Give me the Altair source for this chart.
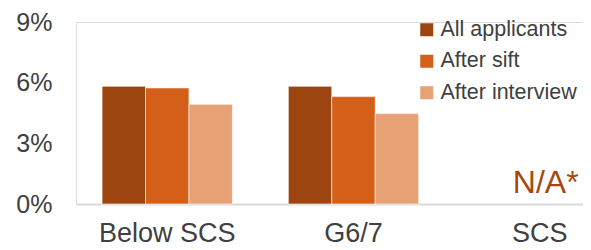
import altair as alt
import pandas as pd

categories = ["Below SCS", "G6/7"]
all_categories = ["Below SCS", "G6/7", "SCS"]
series = ["All applicants", "After sift", "After interview"]
all_applicants = [0.0582, 0.0582]
after_sift = [0.0574, 0.0531]
after_interview = [0.0493, 0.0447]
colors = ["#9C4511", "#D35F18", "#E6A174"]
y_ticks = [0, 0.03, 0.06, 0.09]
na_category = ["SCS"]
na_label = ["N/A*"]

FONT = "Liberation Sans, Arial, sans-serif"
TEXT = "#404040"

rows = []
for s, vals in zip(series, [all_applicants, after_sift, after_interview]):
    for c, v in zip(categories, vals):
        rows.append({"category": c, "series": s, "value": v})
df = pd.DataFrame(rows)
na_df = pd.DataFrame({"category": na_category, "label": na_label, "value": [0.0]})

x_scale = alt.Scale(domain=all_categories, range=[0, 555], paddingInner=0.3, paddingOuter=0.14)

bars = alt.Chart(df).mark_bar(stroke="white", strokeWidth=0.6).encode(
    x=alt.X("category:N", scale=x_scale, sort=all_categories,
            axis=alt.Axis(title=None, labelAngle=0, ticks=False, domain=True,
                          domainColor="#D9D9D9", domainWidth=2,
                          labelFontSize=27, labelColor=TEXT, labelFont=FONT,
                          labelPadding=16, labelBaseline="top")),
    xOffset=alt.XOffset("series:N", sort=series, scale=alt.Scale(domain=series)),
    y=alt.Y("value:Q", scale=alt.Scale(domain=[0, 0.09], nice=False),
            axis=alt.Axis(title=None, values=y_ticks, format=".0%", grid=False,
                          domain=False, ticks=False, tickSize=0,
                          labelFontSize=25, labelColor=TEXT, labelFont=FONT,
                          labelPadding=24)),
    color=alt.Color("series:N", scale=alt.Scale(domain=series, range=colors),
                    legend=alt.Legend(title=None, orient="none", legendX=340, legendY=-3,
                                      symbolType="square", symbolSize=169, symbolStrokeWidth=0,
                                      labelFontSize=21.5, labelColor=TEXT, labelFont=FONT,
                                      labelOffset=3, rowPadding=8.5, padding=0, labelLimit=400)),
)

na_text = alt.Chart(na_df).mark_text(
    fontSize=32, font=FONT, color="#A5480F", baseline="alphabetic", align="center", dy=-11, dx=6
).encode(
    x=alt.X("category:N", scale=x_scale, sort=all_categories),
    y=alt.Y("value:Q"),
    text="label:N",
)

chart = alt.layer(bars, na_text).properties(
    width=507, height=182,
    padding={"left": 68, "top": 14, "right": 0, "bottom": 44},
    autosize=alt.AutoSizeParams(type="none"),
).configure_view(stroke=None).configure(background="white")

chart.save("out.html", embed_options={"renderer": "svg", "actions": False})
